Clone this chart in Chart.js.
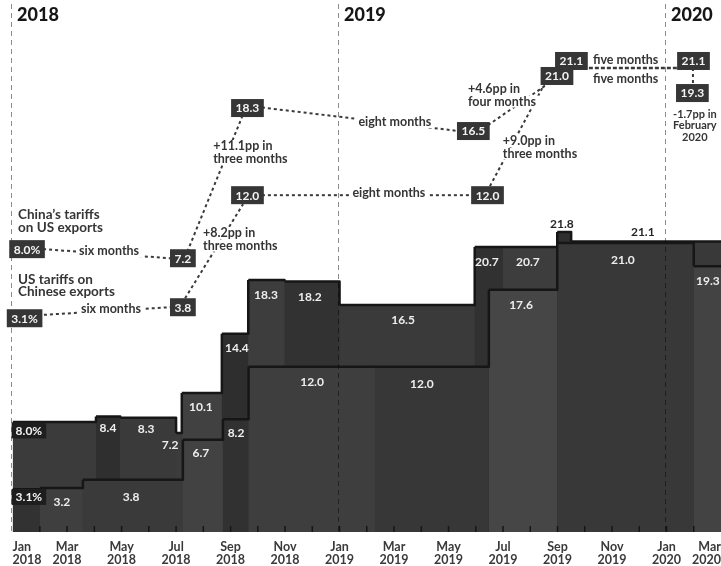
<!DOCTYPE html>
<html>
<head>
    <title>US-China tariffs</title>
    <script src="https://cdn.jsdelivr.net/npm/chart.js@4.4.1/dist/chart.umd.min.js"></script>
    <style>
        body { margin: 0; background: #fff; }
    </style>
</head>
<body>
    <canvas id="tariff-chart" width="721" height="566"></canvas>

    <script>
        // months counted from Jan 2018 (0 = 1 Jan 2018)
        const chinaMonths  = [0, 3.06, 3.95, 6.0, 6.21, 7.68, 8.65, 9.98, 12.0, 16.96, 18.0, 19.99, 20.5, 26];
        const chinaTariffs = [8.0, 8.4, 8.3, 7.2, 10.1, 14.4, 18.3, 18.2, 16.5, 20.7, 20.7, 21.8, 21.1, 21.1];

        const usMonths  = [0, 1.0, 2.58, 6.25, 7.72, 8.66, 13.3, 17.48, 19.99, 25.0, 26];
        const usTariffs = [3.1, 3.2, 3.8, 6.7, 8.2, 12.0, 12.0, 17.6, 21.0, 19.3, 19.3];

        const tickMonths = ['Jan', 'Mar', 'May', 'Jul', 'Sep', 'Nov'];
        const tickYears = ['2018', '2019', '2020'];
        const yearLabels = ['2018', '2019', '2020'];

        // band shading of each step
        const chinaShades = ['#3b3b3b', '#2f2f2f', '#3a3a3a', '#3c3c3c', '#414141', '#2e2e2e', '#3d3d3d',
                             '#323232', '#3a3a3a', '#313131', '#3d3d3d', '#2e2e2e', '#393939'];
        const usShades = ['#323232', '#3f3f3f', '#3a3a3a', '#424242', '#313131', '#3e3e3e', '#373737',
                          '#464646', '#383838', '#434343'];

        const FONT = 'Lato, "Open Sans", sans-serif';

        // boxed numbers above the chart: text, month, y position (chart units)
        const boxes = [
            ['8.0%', 0.53, 20.55], ['7.2', 6.25, 19.89],
            ['3.1%', 0.44, 15.53], ['3.8', 6.25, 16.33],
            ['18.3', 8.62, 30.8], ['12.0', 8.62, 24.47],
            ['16.5', 16.91, 29.13], ['12.0', 17.43, 24.47],
            ['21.1', 20.51, 34.22], ['21.0', 19.98, 33.13],
            ['21.1', 24.99, 34.22], ['19.3', 24.95, 31.89]
        ];
        // dashed connectors between the boxes
        const links = [
            [1.12, 20.55, 5.78, 19.89], [0.93, 15.75, 5.78, 16.33],
            [6.33, 19.96, 8.42, 30.15], [6.33, 16.98, 8.46, 23.82],
            [9.15, 30.84, 16.38, 29.13], [9.15, 24.47, 16.9, 24.47],
            [17.45, 29.56, 20.49, 33.71], [17.52, 25.13, 19.54, 32.62],
            [20.49, 33.71, 24.97, 33.71], [24.97, 33.71, 24.97, 32.4]
        ];
        const notes = [
            { lines: ['China\u2019s tariffs', 'on US exports'], m: 0.2, v: 23.02, align: 'left', size: 13.5 },
            { lines: ['US tariffs on', 'Chinese exports'], m: 0.2, v: 18.36, align: 'left', size: 13.5 },
            { lines: ['six months'], m: 3.54, v: 20.4, align: 'center' },
            { lines: ['six months'], m: 3.61, v: 16.18, align: 'center' },
            { lines: ['+11.1pp in', 'three months'], m: 7.36, v: 28.04, align: 'left' },
            { lines: ['+8.2pp in', 'three months'], m: 6.99, v: 21.71, align: 'left' },
            { lines: ['eight months'], m: 14.03, v: 29.78, align: 'center' },
            { lines: ['eight months'], m: 13.81, v: 24.62, align: 'center' },
            { lines: ['+4.6pp in', 'four months'], m: 16.71, v: 32.18, align: 'left' },
            { lines: ['+9.0pp in', 'three months'], m: 17.99, v: 28.4, align: 'left' },
            { lines: ['five months'], m: 22.5, v: 34.29, align: 'center' },
            { lines: ['five months'], m: 22.5, v: 32.9, align: 'center' },
            { lines: ['-1.7pp in', 'February', '2020'], m: 25.04, v: 30.36, align: 'center', gap: 11.5, size: 11 }
        ];
        // value labels inside the area
        const areaLabels = [
            ['3.2', 1.81, 2.15], ['3.8', 4.35, 2.51], ['8.4', 3.5, 7.53], ['8.3', 4.9, 7.45],
            ['7.2', 5.78, 6.29], ['10.1', 6.91, 9.05], ['6.7', 6.91, 5.71], ['8.2', 8.2, 7.16],
            ['14.4', 8.23, 13.35], ['18.3', 9.3, 17.2], ['18.2', 10.91, 17.05], ['12.0', 10.99, 10.87],
            ['16.5', 14.33, 15.38], ['12.0', 15.02, 10.73], ['20.7', 17.41, 19.6], ['20.7', 18.91, 19.6],
            ['17.6', 18.66, 16.47], ['21.0', 22.4, 19.75], ['19.3', 25.52, 18.22]
        ];
        const topLabels = [['21.8', 20.16, 22.36], ['21.1', 23.13, 21.78]];
        const areaBoxes = [['8.0%', 0.6, 7.38], ['3.1%', 0.47, 2.55]];

        function points(xs, ys) {
            return xs.map((m, i) => ({ x: m, y: ys[i] }));
        }

        const notesPlugin = {
            id: 'notes',
            afterDatasetsDraw(chart) {
                const ctx = chart.ctx;
                const xs = chart.scales.x, ys = chart.scales.y;
                const px = m => xs.getPixelForValue(m);
                const py = v => ys.getPixelForValue(v);
                const base = py(0);
                ctx.save();

                // monthly ticks along the bottom
                ctx.strokeStyle = '#161616';
                ctx.lineWidth = 1.5;
                for (let m = 1; m < 26; m++) {
                    ctx.beginPath();
                    ctx.moveTo(px(m), base);
                    ctx.lineTo(px(m), base - 6);
                    ctx.stroke();
                }

                // year dividers
                ctx.setLineDash([5, 4]);
                ctx.lineWidth = 1;
                ctx.strokeStyle = 'rgba(0,0,0,0.45)';
                [0, 12, 24].forEach(m => {
                    ctx.beginPath();
                    ctx.moveTo(Math.round(px(m)) - 1.5, 4);
                    ctx.lineTo(Math.round(px(m)) - 1.5, base);
                    ctx.stroke();
                });
                ctx.setLineDash([]);

                // year titles
                ctx.fillStyle = '#161616';
                ctx.font = '900 18px ' + FONT;
                ctx.textBaseline = 'middle';
                ctx.textAlign = 'left';
                yearLabels.forEach((t, i) => ctx.fillText(t, px(i * 12) + 4.5, py(37.56)));

                // labels inside the filled area
                ctx.font = 'bold 12px ' + FONT;
                areaBoxes.forEach(([t, m, v]) => {
                    const w = ctx.measureText(t).width + 8;
                    ctx.fillStyle = '#1e1e1e';
                    ctx.fillRect(px(0) - 1, py(v) - 8, w, 16);
                    ctx.fillStyle = '#f2f2f2';
                    ctx.textAlign = 'left';
                    ctx.fillText(t, px(0) + 3, py(v) + 0.5);
                });
                ctx.textAlign = 'center';
                ctx.fillStyle = '#eeeeee';
                areaLabels.forEach(([t, m, v]) => ctx.fillText(t, px(m), py(v)));
                ctx.fillStyle = '#262626';
                topLabels.forEach(([t, m, v]) => ctx.fillText(t, px(m), py(v)));

                // dashed connectors
                ctx.strokeStyle = '#3a3a3a';
                links.forEach(([m1, v1, m2, v2], i) => {
                    ctx.lineWidth = i === 8 ? 2.6 : 2;
                    ctx.setLineDash(i === 8 ? [4, 2] : [3, 3]);
                    ctx.beginPath();
                    ctx.moveTo(px(m1), py(v1));
                    ctx.lineTo(px(m2), py(v2));
                    ctx.stroke();
                });
                ctx.setLineDash([]);

                // text notes, on white so they break the dashed lines
                notes.forEach(n => {
                    const size = n.size || 12.5;
                    const gap = n.gap || 12.5;
                    ctx.font = 'bold ' + size + 'px ' + FONT;
                    ctx.textAlign = n.align;
                    n.lines.forEach((line, i) => {
                        const x = px(n.m), y = py(n.v) + i * gap;
                        const w = ctx.measureText(line).width;
                        const left = n.align === 'left' ? x : x - w / 2;
                        ctx.fillStyle = '#ffffff';
                        ctx.fillRect(left - 3, y - 6, w + 6, 12);
                        ctx.fillStyle = '#353535';
                        ctx.fillText(line, x, y);
                    });
                });

                // value boxes
                ctx.font = 'bold 12px ' + FONT;
                ctx.textAlign = 'center';
                boxes.forEach(([t, m, v]) => {
                    const w = ctx.measureText(t).width + 9;
                    const x = px(m), y = py(v);
                    ctx.fillStyle = '#363636';
                    ctx.fillRect(x - w / 2, y - 9, w, 18);
                    ctx.fillStyle = '#f4f4f4';
                    ctx.fillText(t, x, y + 0.5);
                });
                ctx.restore();
            }
        };

        const ctx = document.getElementById('tariff-chart').getContext('2d');
        const tariffChart = new Chart(ctx, {
            type: 'line',
            data: {
                datasets: [{
                    label: 'US tariffs on Chinese exports',
                    data: points(usMonths, usTariffs),
                    stepped: true,
                    fill: 'origin',
                    backgroundColor: '#3c3c3c',
                    borderColor: '#161616',
                    borderWidth: 2.5,
                    borderJoinStyle: 'round',
                    pointRadius: 0,
                    segment: {
                        backgroundColor: c => usShades[c.p0DataIndex]
                    }
                }, {
                    label: 'China\u2019s tariffs on US exports',
                    data: points(chinaMonths, chinaTariffs),
                    stepped: true,
                    fill: 'origin',
                    backgroundColor: '#3a3a3a',
                    borderColor: '#161616',
                    borderWidth: 2.5,
                    borderJoinStyle: 'round',
                    pointRadius: 0,
                    segment: {
                        backgroundColor: c => chinaShades[c.p0DataIndex]
                    }
                }, {
                    // solid base under the shaded bands, hides seams between them
                    label: 'base',
                    data: points(chinaMonths, chinaTariffs),
                    stepped: true,
                    fill: 'origin',
                    backgroundColor: '#393939',
                    borderWidth: 0,
                    pointRadius: 0
                }]
            },
            options: {
                responsive: false,
                animation: false,
                layout: { padding: { left: 12.6, right: 0, top: 0, bottom: 2 } },
                plugins: {
                    legend: { display: false },
                    tooltip: { enabled: false }
                },
                scales: {
                    x: {
                        type: 'linear',
                        min: 0,
                        max: 26,
                        grid: { display: false, drawTicks: false },
                        border: { display: false },
                        afterFit: function(scale) {
                            scale.height = 32;
                            scale.paddingLeft = 0;
                            scale.paddingRight = 0;
                        },
                        ticks: {
                            stepSize: 2,
                            autoSkip: false,
                            maxRotation: 0,
                            align: 'inner',
                            padding: 9,
                            color: '#3a3a3a',
                            font: { family: FONT, weight: 'bold', size: 12.5, lineHeight: 1.0 },
                            callback: function(value) {
                                const i = Math.round(value / 2);
                                return [tickMonths[i % 6], tickYears[Math.floor(i / 6)]];
                            }
                        }
                    },
                    y: {
                        display: false,
                        min: 0,
                        max: 38.65
                    }
                }
            },
            plugins: [notesPlugin]
        });
    </script>
</body>
</html>
